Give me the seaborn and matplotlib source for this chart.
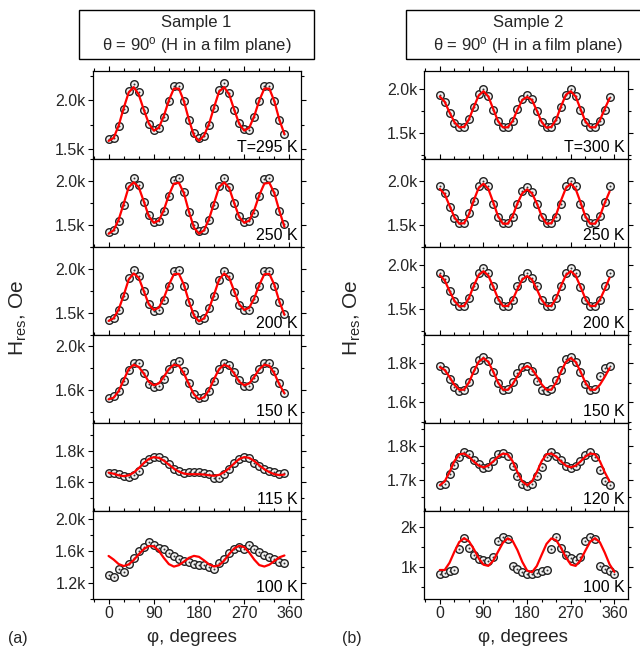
import matplotlib
matplotlib.use("Agg")
import matplotlib.pyplot as plt
import seaborn as sns
import pandas as pd
from matplotlib.patches import Rectangle
from matplotlib.ticker import FixedLocator, MultipleLocator, FuncFormatter

sns.set_theme(style="ticks")
plt.rcParams['font.family'] = ['Liberation Sans', 'DejaVu Sans']
plt.rcParams['mathtext.fontset'] = 'custom'
plt.rcParams['mathtext.rm'] = 'Liberation Sans'
plt.rcParams['mathtext.it'] = 'Liberation Sans:italic'

# ---------------- data (kOe) ----------------
phi_36 = list(range(0, 360, 10))
phi_37 = list(range(0, 370, 10))

s1_labels = ["T=295 K", "250 K", "200 K", "150 K", "115 K", "100 K"]
s2_labels = ["T=300 K", "250 K", "200 K", "150 K", "120 K", "100 K"]

s1_295_data = [1.600, 1.617, 1.733, 1.911, 2.099, 2.171, 2.086, 1.897, 1.760, 1.700, 1.716, 1.829, 1.993, 2.147, 2.147, 1.993, 1.798, 1.664, 1.613, 1.640, 1.743, 1.925, 2.106, 2.175, 2.079, 1.897, 1.767, 1.709, 1.692, 1.829, 1.993, 2.147, 2.147, 1.993, 1.801, 1.658]
s1_295_fit = [1.585, 1.615, 1.740, 1.920, 2.080, 2.135, 2.060, 1.905, 1.765, 1.690, 1.720, 1.840, 2.000, 2.120, 2.120, 1.990, 1.800, 1.640, 1.585, 1.640, 1.760, 1.930, 2.090, 2.135, 2.060, 1.905, 1.760, 1.690, 1.720, 1.840, 2.000, 2.120, 2.120, 1.990, 1.800, 1.655]
s1_250_data = [1.424, 1.447, 1.542, 1.727, 1.939, 2.034, 1.955, 1.765, 1.614, 1.538, 1.549, 1.659, 1.830, 2.015, 2.030, 1.871, 1.652, 1.500, 1.428, 1.447, 1.557, 1.727, 1.939, 2.030, 1.928, 1.746, 1.606, 1.530, 1.545, 1.636, 1.833, 2.023, 2.034, 1.871, 1.663, 1.511]
s1_250_fit = [1.400, 1.440, 1.560, 1.740, 1.930, 1.985, 1.930, 1.770, 1.600, 1.525, 1.550, 1.670, 1.840, 1.970, 1.980, 1.860, 1.650, 1.470, 1.400, 1.440, 1.570, 1.750, 1.930, 1.985, 1.920, 1.750, 1.590, 1.525, 1.550, 1.670, 1.840, 1.970, 1.980, 1.860, 1.660, 1.480]
s1_200_data = [1.424, 1.443, 1.538, 1.689, 1.894, 1.985, 1.924, 1.746, 1.602, 1.519, 1.538, 1.652, 1.803, 1.973, 1.985, 1.811, 1.621, 1.489, 1.424, 1.443, 1.553, 1.697, 1.879, 1.977, 1.917, 1.742, 1.595, 1.538, 1.530, 1.659, 1.803, 1.973, 1.981, 1.803, 1.621, 1.489]
s1_200_fit = [1.410, 1.440, 1.540, 1.700, 1.880, 1.950, 1.900, 1.750, 1.600, 1.535, 1.560, 1.670, 1.820, 1.940, 1.945, 1.820, 1.630, 1.470, 1.405, 1.440, 1.550, 1.710, 1.880, 1.950, 1.900, 1.750, 1.600, 1.535, 1.560, 1.670, 1.820, 1.940, 1.945, 1.820, 1.630, 1.480]
s1_150_data = [1.527, 1.548, 1.594, 1.685, 1.785, 1.842, 1.842, 1.752, 1.655, 1.630, 1.639, 1.700, 1.788, 1.842, 1.867, 1.776, 1.661, 1.564, 1.527, 1.533, 1.588, 1.685, 1.794, 1.842, 1.830, 1.761, 1.691, 1.639, 1.633, 1.706, 1.788, 1.848, 1.842, 1.770, 1.661, 1.573]
s1_150_fit = [1.515, 1.530, 1.590, 1.690, 1.790, 1.830, 1.810, 1.750, 1.675, 1.643, 1.660, 1.720, 1.790, 1.830, 1.820, 1.750, 1.650, 1.560, 1.515, 1.535, 1.600, 1.700, 1.790, 1.830, 1.810, 1.750, 1.675, 1.643, 1.660, 1.720, 1.790, 1.830, 1.820, 1.750, 1.650, 1.570]
s1_115_data = [1.659, 1.661, 1.653, 1.640, 1.637, 1.648, 1.670, 1.728, 1.750, 1.760, 1.760, 1.742, 1.715, 1.685, 1.670, 1.661, 1.663, 1.665, 1.665, 1.661, 1.655, 1.626, 1.626, 1.655, 1.688, 1.722, 1.750, 1.763, 1.752, 1.725, 1.702, 1.682, 1.670, 1.663, 1.655, 1.661]
s1_115_fit = [1.662, 1.655, 1.645, 1.640, 1.645, 1.662, 1.690, 1.722, 1.748, 1.760, 1.755, 1.738, 1.712, 1.688, 1.668, 1.656, 1.652, 1.652, 1.652, 1.650, 1.645, 1.642, 1.648, 1.665, 1.690, 1.720, 1.748, 1.760, 1.755, 1.735, 1.708, 1.684, 1.665, 1.652, 1.646, 1.650]
s1_100_data = [1.305, 1.276, 1.381, 1.339, 1.432, 1.518, 1.596, 1.655, 1.707, 1.676, 1.642, 1.619, 1.571, 1.543, 1.506, 1.476, 1.459, 1.434, 1.423, 1.423, 1.396, 1.377, 1.448, 1.500, 1.577, 1.627, 1.655, 1.624, 1.680, 1.624, 1.586, 1.554, 1.528, 1.503, 1.465, 1.449]
s1_100_fit = [1.538, 1.493, 1.437, 1.412, 1.432, 1.487, 1.558, 1.623, 1.662, 1.659, 1.602, 1.513, 1.436, 1.405, 1.423, 1.467, 1.515, 1.539, 1.527, 1.483, 1.433, 1.406, 1.421, 1.480, 1.561, 1.632, 1.666, 1.648, 1.580, 1.492, 1.424, 1.406, 1.429, 1.475, 1.521, 1.544]

s2_300_data = [1.927, 1.853, 1.718, 1.611, 1.564, 1.565, 1.658, 1.793, 1.938, 1.992, 1.919, 1.756, 1.628, 1.562, 1.558, 1.628, 1.768, 1.877, 1.925, 1.887, 1.746, 1.617, 1.558, 1.567, 1.643, 1.793, 1.932, 1.992, 1.919, 1.756, 1.617, 1.558, 1.558, 1.633, 1.756, 1.900]
s2_300_fit = [1.910, 1.850, 1.730, 1.620, 1.560, 1.565, 1.650, 1.790, 1.920, 1.970, 1.910, 1.770, 1.630, 1.560, 1.560, 1.630, 1.760, 1.870, 1.905, 1.870, 1.750, 1.620, 1.555, 1.565, 1.650, 1.800, 1.930, 1.970, 1.910, 1.770, 1.630, 1.560, 1.560, 1.640, 1.770, 1.890]
s2_250_data = [1.939, 1.863, 1.710, 1.580, 1.523, 1.523, 1.637, 1.771, 1.943, 2.000, 1.943, 1.740, 1.588, 1.523, 1.523, 1.588, 1.733, 1.882, 1.931, 1.874, 1.740, 1.588, 1.523, 1.523, 1.588, 1.740, 1.943, 2.000, 1.939, 1.740, 1.588, 1.523, 1.523, 1.607, 1.760, 1.943]
s2_250_fit = [1.910, 1.850, 1.720, 1.590, 1.515, 1.520, 1.620, 1.780, 1.920, 1.970, 1.910, 1.760, 1.600, 1.515, 1.515, 1.600, 1.745, 1.860, 1.905, 1.860, 1.745, 1.600, 1.515, 1.520, 1.620, 1.780, 1.920, 1.970, 1.910, 1.760, 1.600, 1.515, 1.515, 1.600, 1.750, 1.880]
s2_200_data = [1.908, 1.840, 1.698, 1.584, 1.527, 1.527, 1.622, 1.756, 1.901, 1.958, 1.901, 1.756, 1.603, 1.527, 1.527, 1.603, 1.756, 1.851, 1.901, 1.851, 1.756, 1.603, 1.527, 1.527, 1.622, 1.756, 1.908, 1.958, 1.901, 1.740, 1.603, 1.527, 1.527, 1.603, 1.756, 1.908]
s2_200_fit = [1.880, 1.820, 1.700, 1.590, 1.525, 1.530, 1.620, 1.760, 1.880, 1.925, 1.875, 1.750, 1.615, 1.530, 1.530, 1.600, 1.720, 1.830, 1.870, 1.830, 1.720, 1.600, 1.530, 1.530, 1.620, 1.760, 1.880, 1.925, 1.875, 1.750, 1.615, 1.530, 1.530, 1.600, 1.720, 1.850]
s2_150_data = [1.788, 1.766, 1.720, 1.677, 1.660, 1.663, 1.706, 1.766, 1.817, 1.834, 1.814, 1.754, 1.697, 1.663, 1.668, 1.706, 1.749, 1.779, 1.788, 1.762, 1.711, 1.663, 1.656, 1.668, 1.715, 1.766, 1.822, 1.834, 1.805, 1.754, 1.694, 1.663, 1.668, 1.737, 1.776, 1.788]
s2_150_fit = [1.780, 1.766, 1.730, 1.690, 1.664, 1.665, 1.702, 1.758, 1.807, 1.827, 1.807, 1.758, 1.702, 1.665, 1.664, 1.692, 1.734, 1.771, 1.786, 1.771, 1.734, 1.692, 1.664, 1.665, 1.702, 1.758, 1.807, 1.827, 1.807, 1.758, 1.702, 1.665, 1.664, 1.690, 1.730, 1.775]
s2_120_data = [1.685, 1.690, 1.719, 1.744, 1.766, 1.783, 1.776, 1.758, 1.747, 1.734, 1.739, 1.756, 1.776, 1.779, 1.771, 1.742, 1.713, 1.688, 1.683, 1.690, 1.713, 1.739, 1.766, 1.781, 1.771, 1.758, 1.742, 1.734, 1.742, 1.756, 1.774, 1.781, 1.768, 1.729, 1.698, 1.685]
s2_120_fit = [1.685, 1.696, 1.723, 1.755, 1.775, 1.777, 1.768, 1.754, 1.742, 1.737, 1.742, 1.754, 1.768, 1.777, 1.775, 1.755, 1.723, 1.696, 1.685, 1.696, 1.723, 1.755, 1.775, 1.777, 1.768, 1.754, 1.742, 1.737, 1.742, 1.754, 1.768, 1.777, 1.775, 1.755, 1.723, 1.696]
s2_100_data = [0.817, 0.858, 0.900, 0.917, 1.458, 1.733, 1.475, 1.292, 1.208, 1.183, 1.142, 1.250, 1.650, 1.750, 1.692, 1.025, 0.942, 0.875, 0.833, 0.817, 0.858, 0.892, 0.917, 1.458, 1.750, 1.475, 1.292, 1.225, 1.183, 1.250, 1.650, 1.750, 1.692, 1.025, 0.942, 0.892, 0.817]
s2_100_fit = [0.925, 0.925, 1.105, 1.381, 1.624, 1.720, 1.645, 1.451, 1.223, 1.058, 1.028, 1.154, 1.382, 1.604, 1.717, 1.655, 1.423, 1.129, 0.910, 0.869, 1.025, 1.305, 1.578, 1.716, 1.667, 1.478, 1.239, 1.061, 1.028, 1.166, 1.408, 1.630, 1.720, 1.618, 1.361, 1.068, 0.876]

x_ticks = [0, 90, 180, 270, 360]

# axis settings per panel: (ylim, major ticks, minor step, decimals)
s1_axes = [((1.40, 2.30), [1.5, 2.0], 0.25, 1),
           ((1.25, 2.25), [1.5, 2.0], 0.25, 1),
           ((1.25, 2.25), [1.5, 2.0], 0.25, 1),
           ((1.30, 2.10), [1.6, 2.0], 0.2, 1),
           ((1.42, 1.975), [1.6, 1.8], 0.1, 1),
           ((1.00, 2.10), [1.2, 1.6, 2.0], 0.2, 1)]
s2_axes = [((1.20, 2.20), [1.5, 2.0], 0.25, 1),
           ((1.25, 2.25), [1.5, 2.0], 0.25, 1),
           ((1.20, 2.20), [1.5, 2.0], 0.25, 1),
           ((1.494, 1.945), [1.6, 1.8], 0.1, 1),
           ((1.61, 1.866), [1.7, 1.8], 0.05, 1),
           ((0.20, 2.40), [1.0, 2.0], 0.5, 0)]

s1_series = [(s1_295_data, s1_295_fit), (s1_250_data, s1_250_fit), (s1_200_data, s1_200_fit),
             (s1_150_data, s1_150_fit), (s1_115_data, s1_115_fit), (s1_100_data, s1_100_fit)]
s2_series = [(s2_300_data, s2_300_fit), (s2_250_data, s2_250_fit), (s2_200_data, s2_200_fit),
             (s2_150_data, s2_150_fit), (s2_120_data, s2_120_fit), (s2_100_data, s2_100_fit)]

# ---------------- figure ----------------
W, H = 640, 646
fig = plt.figure(figsize=(W / 100, H / 100), dpi=100)
fig.patch.set_facecolor('white')

row_edges = [71, 159, 247, 335, 423, 511, 599]
col_x = [(92.5, 301), (424.3, 628)]
col_xlim = [(-32, 383), (-32, 388)]

FS_TICK = 11.5


def make_fmt(dec):
    return FuncFormatter(lambda v, p: f"{v:.{dec}f}k")


for c, (series, axes_cfg, labels) in enumerate([(s1_series, s1_axes, s1_labels),
                                                 (s2_series, s2_axes, s2_labels)]):
    x0, x1 = col_x[c]
    for r in range(6):
        top, bot = row_edges[r], row_edges[r + 1]
        ax = fig.add_axes([x0 / W, 1 - bot / H, (x1 - x0) / W, (bot - top) / H])
        data, fit = series[r]
        phi_d = phi_36 if len(data) == 36 else phi_37
        phi_f = phi_36 if len(fit) == 36 else phi_37
        df = pd.DataFrame({"phi": phi_d, "H": data})
        dff = pd.DataFrame({"phi": phi_f, "H": fit})
        sns.scatterplot(data=df, x="phi", y="H", ax=ax, marker="o", s=30,
                        facecolor="#f2f2f2", edgecolor="#222222", linewidth=1.0, zorder=2)
        sns.scatterplot(data=df, x="phi", y="H", ax=ax, marker="o", s=2,
                        color="#333333", linewidth=0, zorder=3)
        sns.lineplot(data=dff, x="phi", y="H", ax=ax, color="#ff0000", linewidth=1.6,
                     zorder=4, sort=False)
        ylim, majors, mstep, dec = axes_cfg[r]
        ax.set_ylim(*ylim)
        ax.set_xlim(*col_xlim[c])
        ax.yaxis.set_major_locator(FixedLocator(majors))
        ax.yaxis.set_minor_locator(MultipleLocator(mstep))
        ax.yaxis.set_major_formatter(make_fmt(dec))
        ax.xaxis.set_major_locator(FixedLocator(x_ticks))
        ax.xaxis.set_minor_locator(MultipleLocator(30))
        ax.set_xlabel("")
        ax.set_ylabel("")
        for sp in ax.spines.values():
            sp.set_visible(True)
            sp.set_linewidth(0.9)
            sp.set_color("black")
        ax.tick_params(which="both", direction="out", top=True, right=True,
                       color="black", width=0.8)
        ax.tick_params(which="major", length=3.5, labelsize=FS_TICK, pad=1.5)
        ax.tick_params(which="minor", length=2)
        if r < 5:
            ax.tick_params(axis="x", labelbottom=False)
        ax.set_facecolor("white")
        ax.text(0.985, 0.05, labels[r], transform=ax.transAxes, ha="right", va="bottom",
                fontsize=FS_TICK, color="black")

# title boxes
boxes = [(79, 10, 314, 59, "Sample 1"), (405.7, 10, 650, 59, "Sample 2")]
for (bx0, by0, bx1, by1, title) in boxes:
    rect = Rectangle((bx0 / W, 1 - by1 / H), (bx1 - bx0) / W, (by1 - by0) / H,
                     transform=fig.transFigure, fill=False, edgecolor="black",
                     linewidth=1.0, clip_on=False)
    fig.add_artist(rect)
    cx = (bx0 + bx1) / 2 / W
    fig.text(cx, 1 - 23 / H, title, ha="center", va="center", fontsize=12)
    fig.text(cx, 1 - 46 / H, r"θ = 90$^{\mathrm{o}}$ (H in a film plane)",
             ha="center", va="center", fontsize=12)

# axis titles
for xc in [18, 352]:
    fig.text(xc / W, 1 - 318 / H, r"H$_{\mathrm{res}}$, Oe", rotation=90,
             ha="center", va="center", fontsize=15)
for xc in [191.5, 522.5]:
    fig.text(xc / W, 1 - 637 / H, "φ, degrees", ha="center", va="center", fontsize=13.5)
fig.text(18 / W, 1 - 638 / H, "(a)", ha="center", va="center", fontsize=11.5)
fig.text(351.7 / W, 1 - 638 / H, "(b)", ha="center", va="center", fontsize=11.5)

fig.savefig("out.png", dpi=100, facecolor="white")
